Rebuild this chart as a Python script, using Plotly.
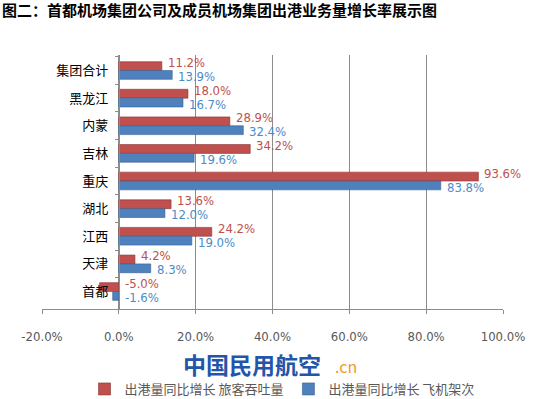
import plotly.graph_objects as go

categories = ["集团合计", "黑龙江", "内蒙", "吉林", "重庆", "湖北", "江西", "天津", "首都"]
passenger = [11.2, 18.0, 28.9, 34.2, 93.6, 13.6, 24.2, 4.2, -5.0]
flights = [13.9, 16.7, 32.4, 19.6, 83.8, 12.0, 19.0, 8.3, -1.6]
series_names = ["出港量同比增长 旅客吞吐量", "出港量同比增长 飞机架次"]
x_ticks = [-20, 0, 20, 40, 60, 80, 100]
title_text = "图二：首都机场集团公司及成员机场集团出港业务量增长率展示图"

CJK = "Noto Sans CJK SC"
NARROW = "Liberation Sans Narrow, DejaVu Sans Condensed, Noto Sans CJK SC"
RED = "#C0504D"
BLUE = "#4F81BD"
RED_TXT = "#C0504D"
BLUE_TXT = "#4A8CC8"
GRID = "#8C8C8C"

W, H = 540, 399
ML, MR, MT, MB = 42, 37, 55, 90
PW, PH = W - ML - MR, H - MT - MB


def px_x(x):
    return (x - ML) / PW


def px_y(y):
    return (H - MB - y) / PH


fig = go.Figure()
fig.add_trace(go.Bar(y=categories, x=passenger, orientation="h", name=series_names[0],
                     marker=dict(color=RED, line=dict(color="#8E3432", width=0.6))))
fig.add_trace(go.Bar(y=categories, x=flights, orientation="h", name=series_names[1],
                     marker=dict(color=BLUE, line=dict(color="#355E92", width=0.6))))

annotations = []
for cat, v in zip(categories, passenger):
    annotations.append(dict(x=max(v, 0), y=cat, xref="x", yref="y", text=f"{v:.1f}%",
                            showarrow=False, xanchor="left", yanchor="middle",
                            xshift=4, yshift=8,
                            font=dict(family=NARROW, size=13, color=RED_TXT)))
for cat, v in zip(categories, flights):
    annotations.append(dict(x=max(v, 0), y=cat, xref="x", yref="y", text=f"{v:.1f}%",
                            showarrow=False, xanchor="left", yanchor="middle",
                            xshift=4, yshift=-6,
                            font=dict(family=NARROW, size=13, color=BLUE_TXT)))

annotations.append(dict(x=px_x(0), y=px_y(9), xref="paper", yref="paper",
                        text="<b>" + title_text + "</b>",
                        showarrow=False, xanchor="left", yanchor="middle",
                        font=dict(family=CJK, size=15, color="#000000")))
annotations.append(dict(x=px_x(252), y=px_y(364), xref="paper", yref="paper",
                        text="<b>中国民用航空</b>",
                        showarrow=False, xanchor="center", yanchor="middle",
                        font=dict(family=CJK, size=23, color="#2356A8")))
annotations.append(dict(x=px_x(346), y=px_y(366), xref="paper", yref="paper",
                        text=".cn",
                        showarrow=False, xanchor="center", yanchor="middle",
                        font=dict(family=CJK, size=16, color="#F29A2E")))

fig.update_layout(
    width=W, height=H,
    margin=dict(l=ML, r=MR, t=MT, b=MB, autoexpand=False),
    paper_bgcolor="white", plot_bgcolor="white",
    barmode="group", bargap=0.36, bargroupgap=0.0,
    font=dict(family=CJK, size=12, color="#000000"),
    showlegend=True,
    legend=dict(orientation="h", x=282 / W, y=(H - 389) / H,
                xref="container", yref="container", xanchor="center", yanchor="middle",
                font=dict(family=CJK, size=13, color="#595959"),
                itemwidth=30, tracegroupgap=0),
    xaxis=dict(range=[-20, 100], tickvals=x_ticks, ticktext=[f"{t:.1f}%" for t in x_ticks],
               showgrid=True, gridcolor=GRID, gridwidth=1,
               zeroline=False, showline=True, linecolor=GRID, linewidth=1,
               mirror=False, ticks="outside", ticklen=4, tickcolor=GRID,
               ticklabelstandoff=11,
               tickfont=dict(family=NARROW, size=13, color="#595959")),
    yaxis=dict(categoryorder="array", categoryarray=categories, autorange="reversed",
               anchor="free", position=1 / 6, showline=True, linecolor=GRID, linewidth=1,
               ticks="outside", tickson="boundaries", ticklen=4, tickcolor=GRID,
               showgrid=False, zeroline=False, ticklabelstandoff=8,
               tickfont=dict(family=CJK, size=13, color="#000000")),
    annotations=annotations,
)

fig.write_html("out.html", config={"displayModeBar": False},
               post_script="document.body.style.margin='0';document.body.style.padding='0';")
